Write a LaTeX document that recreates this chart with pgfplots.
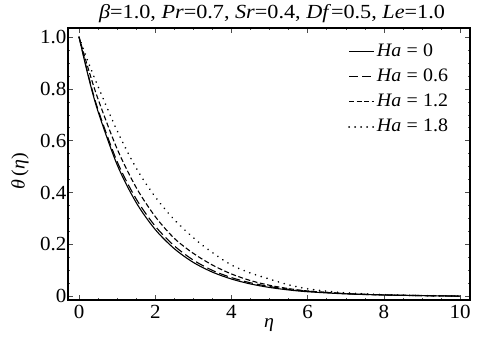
\documentclass[border=0pt]{standalone}
\usepackage{fontspec}
\setmainfont[FakeStretch=1.05]{Liberation Serif}
\newfontfamily\titlefont[FakeStretch=1.11]{Liberation Serif}
\usepackage{pgfplots}
\pgfplotsset{compat=1.18}
\begin{document}
\begin{tikzpicture}
\begin{axis}[
  scale only axis, width=402bp, height=272bp,
  xmin=-0.29, xmax=10.26, ymin=-0.015, ymax=1.035,
  xtick={0,2,4,6,8,10},
  ytick={0,0.2,0.4,0.6,0.8,1.0},
  yticklabels={0,0.2,0.4,0.6,0.8,1.0},
  minor x tick num=3, minor y tick num=3,
  tick align=inside, major tick length=5bp, minor tick length=2.5bp,
  tick style={line width=0.5bp, black!70},
  axis line style={line width=1.3bp},
  /pgf/number format/assume math mode=true,
  ticklabel style={font=\fontsize{20bp}{22bp}\selectfont},
  xticklabel style={yshift=-1.5bp},
  yticklabel style={xshift=2bp},
  xlabel={\textit{η}}, ylabel={\textit{θ}\,(\textit{η})},
  label style={font=\fontsize{19bp}{21bp}\selectfont},
  xlabel style={at={(axis description cs:0.5,0)}, anchor=base, yshift=-27bp},
  ylabel style={at={(axis description cs:0,0.474)}, anchor=center, yshift=48bp},
  title={\textit{β}=1.0, \textit{Pr}=0.7, \textit{Sr}=0.4, \textit{Df}=0.5, \textit{Le}=1.0},
  title style={font=\titlefont\fontsize{20bp}{22bp}\selectfont, inner sep=0bp, at={(axis description cs:0.5,1)}, anchor=base, yshift=4bp, xshift=3bp},
  legend style={draw=none, fill=none, at={(rel axis cs:0.6965,0.9424)}, anchor=north west,
    font=\fontsize{19bp}{21bp}\selectfont, inner sep=0bp, row sep=9bp, column sep=2bp,
    nodes={inner sep=0bp, text height=13bp, text depth=3bp}},
  legend cell align=left,
  legend image code/.code={\draw[#1] (0bp,0bp) -- (25bp,0bp);},
]
\coordinate (bl) at (rel axis cs:0,0);
\coordinate (tr) at (rel axis cs:1,1);
\addplot[black, line width=1.1bp, smooth] coordinates {
(0,1) (0.25,0.844) (0.5,0.712) (1,0.507) (1.5,0.361) (2,0.257) (2.5,0.183) (3,0.130)
(3.5,0.0926) (4,0.0659) (4.5,0.0469) (5,0.0334) (5.5,0.0238) (6,0.0169) (7,0.0086)
(8,0.0043) (9,0.0018) (10,0)};
\addlegendentry{\textit{Ha}\;=\;0}
\addplot[black, line width=1.1bp, smooth, dash pattern=on 9bp off 4bp] coordinates {
(0,1) (0.25,0.849) (0.5,0.719) (1,0.519) (1.5,0.375) (2,0.270) (2.5,0.194) (3,0.139)
(3.5,0.0993) (4,0.0714) (4.5,0.0513) (5,0.037) (5.5,0.0265) (6,0.019) (7,0.0098)
(8,0.0049) (9,0.0021) (10,0)};
\addlegendentry{\textit{Ha}\;=\;0.6}
\addplot[black, line width=1.1bp, smooth, dash pattern=on 5bp off 2.5bp] coordinates {
(0,1) (0.25,0.874) (0.5,0.760) (1,0.568) (1.5,0.419) (2,0.307) (2.5,0.223) (3,0.165)
(3.5,0.120) (4,0.0854) (4.5,0.060) (5,0.0418) (5.5,0.029) (6,0.020) (7,0.0095)
(8,0.0045) (9,0.002) (10,0)};
\addlegendentry{\textit{Ha}\;=\;1.2}
\addplot[black, line width=1.8bp, smooth, line cap=round, dash pattern=on 0.01bp off 6bp] coordinates {
(0,1) (0.25,0.900) (0.5,0.809) (1,0.638) (1.5,0.494) (2,0.383) (2.5,0.295) (3,0.225)
(3.5,0.168) (4,0.120) (4.5,0.089) (5,0.0656) (5.5,0.0435) (6,0.0282) (6.5,0.019) (7,0.0125)
(8,0.0055) (9,0.002) (10,0)};
\addlegendentry{\textit{Ha}\;=\;1.8}
\end{axis}
\pgfresetboundingbox
\path ([shift={(-68bp,-37bp)}]bl) rectangle ([shift={(7bp,28bp)}]tr);
\end{tikzpicture}
\end{document}
